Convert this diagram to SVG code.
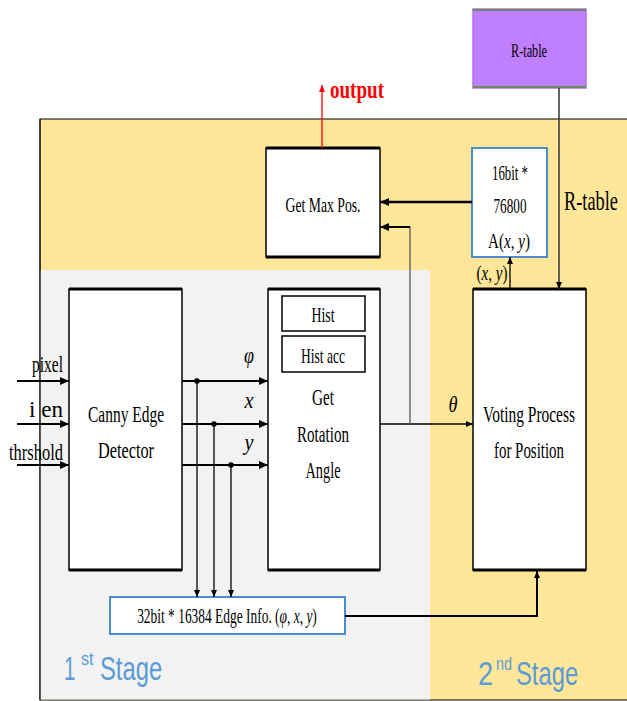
<svg xmlns="http://www.w3.org/2000/svg" width="627" height="701" viewBox="0 0 627 701">
<defs>
<marker id="ah" markerWidth="9" markerHeight="8" refX="9" refY="4" orient="auto" markerUnits="userSpaceOnUse"><path d="M0,0 L9,4 L0,8 z" fill="#000"/></marker>
<marker id="ahs" markerWidth="7" markerHeight="6" refX="7" refY="3" orient="auto" markerUnits="userSpaceOnUse"><path d="M0,0 L7,3 L0,6 z" fill="#000"/></marker>
<marker id="ahr" markerWidth="7" markerHeight="6" refX="7" refY="3" orient="auto" markerUnits="userSpaceOnUse"><path d="M0,0 L7,3 L0,6 z" fill="#f00"/></marker>
</defs>
<style>
.box{fill:#fff;stroke:#000;stroke-width:1.5}
.tb{stroke:#000;stroke-width:3}
.bbox{fill:#fff;stroke:#4a8ed0;stroke-width:2}
.t{font-family:"Liberation Serif",serif;fill:#000;text-anchor:middle}
.i{font-style:italic}
.ln{stroke:#000;stroke-width:2;fill:none}
.thin{stroke:#000;stroke-width:1.3;fill:none}
.stage{font-family:"Liberation Sans",sans-serif;fill:#5b9bd5}
</style>
<rect x="0" y="0" width="627" height="701" fill="#fff"/>
<g id="regions">
<rect x="40" y="119" width="600" height="581" fill="#FFE699" stroke="#000" stroke-width="1"/>
<rect x="40.5" y="270" width="389.5" height="429.5" fill="#F2F2F2"/>
<line x1="40" y1="119" x2="40" y2="700" stroke="#000" stroke-width="1"/>
</g>
<g id="rtable-box">
<rect x="473" y="9" width="113" height="79" fill="#BF7FFF" stroke="#b070f0" stroke-width="1.5"/>
<line x1="473" y1="10" x2="586" y2="10" stroke="#6a8a5a" stroke-width="2"/>
<line x1="473" y1="87" x2="586" y2="87" stroke="#6a8a5a" stroke-width="2"/>
<text class="t" x="529" y="57" font-size="18" textLength="36" lengthAdjust="spacingAndGlyphs">R-table</text>
</g>
<g id="getmax">
<rect class="box" x="266" y="148" width="114" height="109"/>
<line class="tb" x1="266" y1="148" x2="380" y2="148"/>
<line class="tb" x1="266" y1="257" x2="380" y2="257"/>
<text class="t" x="323" y="212" font-size="22" textLength="75" lengthAdjust="spacingAndGlyphs">Get Max Pos.</text>
</g>
<g id="accum">
<rect class="bbox" x="472" y="148" width="75" height="109"/>
<text class="t" x="510" y="180" font-size="22" textLength="36" lengthAdjust="spacingAndGlyphs">16bit *</text>
<text class="t" x="510" y="213" font-size="22" textLength="33" lengthAdjust="spacingAndGlyphs">76800</text>
<text class="t" transform="translate(509,248) scale(0.69,1)" x="0" y="0" font-size="22">A(<tspan class="i">x</tspan>, <tspan class="i">y</tspan>)</text>
</g>
<g id="canny">
<rect class="box" x="69" y="289" width="113" height="281"/>
<line class="tb" x1="69" y1="289" x2="182" y2="289"/>
<line class="tb" x1="69" y1="570" x2="182" y2="570"/>
<text class="t" x="126" y="422" font-size="23" textLength="76" lengthAdjust="spacingAndGlyphs">Canny Edge</text>
<text class="t" x="126" y="458" font-size="23" textLength="56" lengthAdjust="spacingAndGlyphs">Detector</text>
</g>
<g id="rotation">
<rect class="box" x="268" y="289" width="112" height="281"/>
<line class="tb" x1="268" y1="289" x2="380" y2="289"/>
<line class="tb" x1="268" y1="570" x2="380" y2="570"/>
<rect class="box" x="282" y="296" width="83" height="35"/>
<text class="t" x="323" y="322" font-size="21" textLength="23" lengthAdjust="spacingAndGlyphs">Hist</text>
<rect class="box" x="282" y="336" width="83" height="36"/>
<text class="t" x="323" y="363" font-size="21" textLength="44" lengthAdjust="spacingAndGlyphs">Hist acc</text>
<text class="t" x="323" y="405" font-size="23" textLength="22" lengthAdjust="spacingAndGlyphs">Get</text>
<text class="t" x="323" y="442" font-size="23" textLength="52" lengthAdjust="spacingAndGlyphs">Rotation</text>
<text class="t" x="323" y="478" font-size="23" textLength="35" lengthAdjust="spacingAndGlyphs">Angle</text>
</g>
<g id="voting">
<rect class="box" x="473" y="289" width="113" height="281"/>
<line class="tb" x1="473" y1="289" x2="586" y2="289"/>
<line class="tb" x1="473" y1="570" x2="586" y2="570"/>
<text class="t" x="529" y="422" font-size="23" textLength="92" lengthAdjust="spacingAndGlyphs">Voting Process</text>
<text class="t" x="529" y="458" font-size="23" textLength="70" lengthAdjust="spacingAndGlyphs">for Position</text>
</g>
<g id="edgeinfo">
<rect class="bbox" x="110" y="597" width="235" height="37"/>
<text class="t" transform="translate(227,623) scale(0.64,1)" x="0" y="0" font-size="21">32bit * 16384 Edge Info. (<tspan class="i">φ</tspan>, <tspan class="i">x</tspan>, <tspan class="i">y</tspan>)</text>
</g>
<g id="connectors">
<line class="ln" x1="17" y1="381" x2="69" y2="381" marker-end="url(#ah)"/>
<line class="ln" x1="17" y1="424" x2="69" y2="424" marker-end="url(#ah)"/>
<line class="ln" x1="17" y1="465" x2="69" y2="465" marker-end="url(#ah)"/>
<line class="ln" x1="182" y1="381" x2="268" y2="381" marker-end="url(#ah)"/>
<line class="ln" x1="182" y1="424" x2="268" y2="424" marker-end="url(#ah)"/>
<line class="ln" x1="182" y1="465" x2="268" y2="465" marker-end="url(#ah)"/>
<line class="thin" x1="197" y1="381" x2="197" y2="597" marker-end="url(#ahs)"/>
<line class="thin" x1="214" y1="424" x2="214" y2="597" marker-end="url(#ahs)"/>
<line class="thin" x1="231" y1="465" x2="231" y2="597" marker-end="url(#ahs)"/>
<circle cx="197" cy="381" r="2.8" fill="#000"/>
<circle cx="214" cy="424" r="2.8" fill="#000"/>
<circle cx="231" cy="465" r="2.8" fill="#000"/>
<line class="thin" x1="380" y1="424" x2="473" y2="424" marker-end="url(#ahs)"/>
<polyline points="410,424 410,227" fill="none" stroke="#555" stroke-width="1.3"/>
<line class="ln" x1="410" y1="227" x2="380" y2="227" marker-end="url(#ah)"/>
<line stroke="#000" stroke-width="2.5" x1="472" y1="202" x2="380" y2="202" marker-end="url(#ah)"/>
<line stroke="#f00" stroke-width="1.3" x1="322" y1="148" x2="322" y2="85" marker-end="url(#ahr)"/>
<line stroke="#333" stroke-width="1.5" x1="559" y1="88" x2="559" y2="289" marker-end="url(#ahs)"/>
<line class="thin" x1="510" y1="289" x2="510" y2="257" marker-end="url(#ahs)"/>
<polyline class="ln" points="345,616 537,616 537,571" marker-end="url(#ahs)"/>
</g>
<g id="labels">
<text class="t" x="330" y="98" font-size="26" font-weight="bold" style="fill:#f00;text-anchor:start" textLength="54" lengthAdjust="spacingAndGlyphs">output</text>
<text class="t" transform="translate(564,210) scale(0.655,1)" x="0" y="0" font-size="28" style="text-anchor:start">R-table</text>
<text class="t" x="63" y="372" font-size="23" style="text-anchor:end" textLength="31" lengthAdjust="spacingAndGlyphs">pixel</text>
<text class="t" x="63" y="417" font-size="23" style="text-anchor:end" textLength="34" lengthAdjust="spacingAndGlyphs">i en</text>
<text class="t" x="63" y="460" font-size="23" style="text-anchor:end" textLength="54" lengthAdjust="spacingAndGlyphs">thrshold</text>
<text class="t i" x="249" y="363" font-size="23" textLength="10" lengthAdjust="spacingAndGlyphs">φ</text>
<text class="t i" x="249" y="408" font-size="23" textLength="9" lengthAdjust="spacingAndGlyphs">x</text>
<text class="t i" x="249" y="450" font-size="23" textLength="9" lengthAdjust="spacingAndGlyphs">y</text>
<text class="t i" x="453" y="412" font-size="23" textLength="9" lengthAdjust="spacingAndGlyphs">θ</text>
<text class="t" transform="translate(492,280) scale(0.75,1)" x="0" y="0" font-size="20">(<tspan class="i">x</tspan>, <tspan class="i">y</tspan>)</text>
<text class="stage" transform="translate(64,680) scale(0.6,1)" x="0" y="0" font-size="34">1</text>
<text class="stage" transform="translate(81,665) scale(0.9,1)" x="0" y="0" font-size="18">st</text>
<text class="stage" transform="translate(100,680) scale(0.7,1)" x="0" y="0" font-size="34">Stage</text>
<text class="stage" transform="translate(478,685) scale(0.8,1)" x="0" y="0" font-size="34">2</text>
<text class="stage" transform="translate(496,670) scale(0.8,1)" x="0" y="0" font-size="18">nd</text>
<text class="stage" transform="translate(516,685) scale(0.7,1)" x="0" y="0" font-size="34">Stage</text>
</g>
</svg>
